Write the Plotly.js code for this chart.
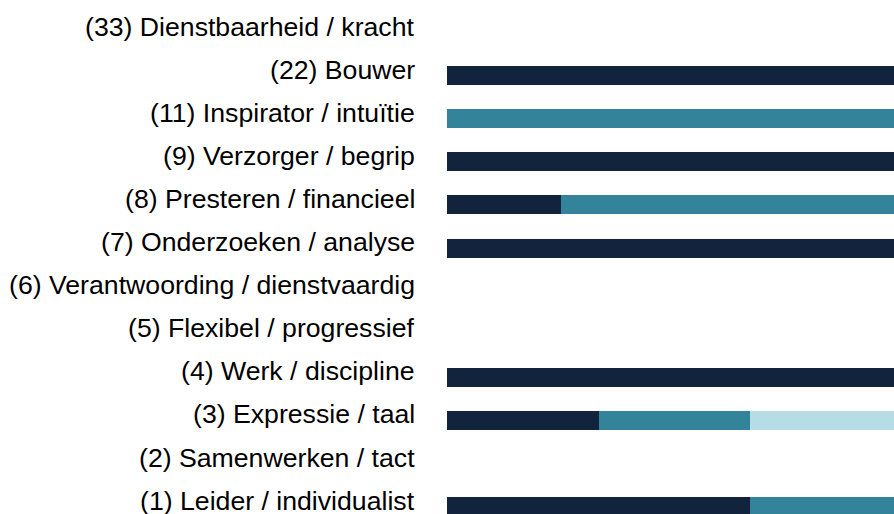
<!DOCTYPE html>
<html>
<head>
<meta charset="utf-8">
<script src="https://cdn.plot.ly/plotly-3.0.1.min.js"></script>
<style>html,body{margin:0;padding:0;background:#fff;overflow:hidden}#chart{width:894px;height:514px}</style>
</head>
<body>
<div id="chart"></div>
<script>
// categories, top to bottom
const categories = [
  "(33) Dienstbaarheid / kracht",
  "(22) Bouwer",
  "(11) Inspirator / intuïtie",
  "(9) Verzorger / begrip",
  "(8) Presteren / financieel",
  "(7) Onderzoeken / analyse",
  "(6) Verantwoording / dienstvaardig",
  "(5) Flexibel / progressief",
  "(4) Werk / discipline",
  "(3) Expressie / taal",
  "(2) Samenwerken / tact",
  "(1) Leider / individualist"
];
// share per category (%)
const seriesDark  = [0, 100, 0, 100, 25, 100, 0, 0, 100, 33.33, 0, 66.67];
const seriesTeal  = [0, 0, 100, 0, 75, 0, 0, 0, 0, 33.33, 0, 33.33];
const seriesLight = [0, 0, 0, 0, 0, 0, 0, 0, 0, 33.34, 0, 0];

const colors = ["#12243d", "#33849b", "#b6dce6"];
const series = [seriesDark, seriesTeal, seriesLight];

const fontFam = "Liberation Sans, Arial, sans-serif";

const traces = series.map((vals, i) => ({
  type: "bar",
  orientation: "h",
  y: categories,
  x: vals,
  marker: {color: colors[i], line: {width: 0}},
  hoverinfo: "x+y"
}));

const annotations = categories.map(c => ({
  text: c,
  xref: "paper",
  x: 0,
  xanchor: "right",
  xshift: -30,
  yref: "y",
  y: c,
  yanchor: "middle",
  yshift: 6,
  showarrow: false,
  font: {family: fontFam, size: 26.67, color: "#000"}
}));

const layout = {
  width: 894,
  height: 514,
  barmode: "stack",
  bargap: 0.56,
  showlegend: false,
  paper_bgcolor: "#fff",
  plot_bgcolor: "#fff",
  margin: {l: 447, r: 0, t: 11, b: 0, pad: 0},
  font: {family: fontFam, size: 26.67, color: "#000"},
  xaxis: {visible: false, range: [0, 98.2], fixedrange: true},
  yaxis: {
    type: "category",
    categoryorder: "array",
    categoryarray: categories.slice().reverse(),
    range: [-0.17, 11.5],
    showgrid: false,
    zeroline: false,
    showline: false,
    showticklabels: false,
    ticks: "",
    automargin: false,
    fixedrange: true
  },
  annotations: annotations
};

Plotly.newPlot("chart", traces, layout, {displayModeBar: false, staticPlot: true});
</script>
</body>
</html>
